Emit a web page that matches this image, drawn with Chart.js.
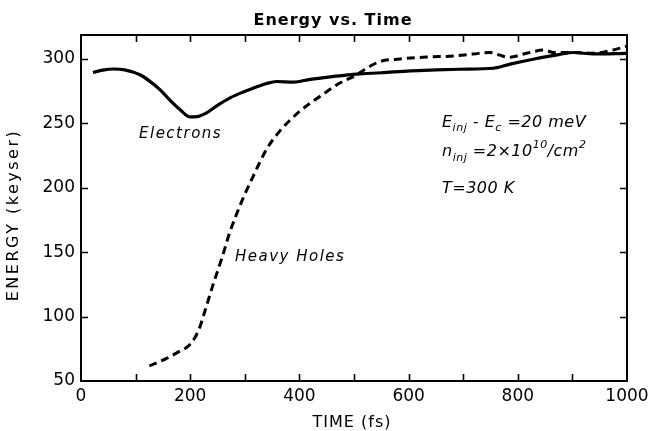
<!DOCTYPE html>
<html>
<head>
<meta charset="utf-8">
<script src="https://cdn.jsdelivr.net/npm/chart.js@4/dist/chart.umd.min.js"></script>
<style>
  html, body { margin: 0; padding: 0; background: #fff; }
  #wrap { width: 650px; height: 431px; }
</style>
</head>
<body>
<div id="wrap"><canvas id="c" width="650" height="431"></canvas></div>
<script>
// ---- data ----
const electronTime   = [22, 40, 59, 80, 108, 125, 145, 163, 181, 200, 212, 230, 250, 273, 295, 316, 340, 358, 389, 420, 460, 505, 550, 603, 650, 694, 755, 786, 828, 877, 902, 938, 1000];
const electronEnergy = [289.5, 291.3, 292.2, 291.5, 287.7, 283, 276, 268, 260.8, 255, 255.2, 258.2, 264, 269.8, 274, 277.4, 281, 282.5, 282, 284.2, 286.3, 288.3, 289.3, 290.8, 291.5, 292, 292.8, 296, 299.8, 303.6, 305, 303.9, 304.4];

const holeTime   = [125, 156, 180, 200, 216, 226, 242, 258, 273, 294, 316, 340, 364, 401, 438, 474, 505, 523, 548, 584, 633, 682, 718, 749, 767, 783, 816, 847, 865, 902, 938, 975, 1000];
const holeEnergy = [61.7, 67.4, 73, 78.5, 90, 103, 125, 145.4, 166, 189, 209.5, 230, 244, 259.5, 271, 281.3, 287.7, 292.8, 298, 300, 301.5, 302.3, 303.8, 305.1, 303, 301.3, 304.4, 306.9, 305.1, 305.1, 304.4, 307, 310];

const xTickValues = [0, 200, 400, 600, 800, 1000];
const yTickValues = [50, 100, 150, 200, 250, 300];
const xMinorTicks = [100, 200, 300, 400, 500, 600, 700, 800, 900];
const yMinorTicks = [100, 150, 200, 250, 300];

const FONT = "'DejaVu Sans', sans-serif";

const framePlugin = {
  id: 'frame',
  afterDraw(chart) {
    const ctx = chart.ctx;
    const a = chart.chartArea;
    const xs = chart.scales.x, ys = chart.scales.y;
    ctx.save();
    ctx.strokeStyle = '#000';
    ctx.lineWidth = 2;
    ctx.strokeRect(a.left, a.top, a.right - a.left, a.bottom - a.top);
    ctx.lineWidth = 1.6;
    const tl = 7;
    ctx.beginPath();
    xMinorTicks.forEach(v => {
      const px = Math.round(xs.getPixelForValue(v)) + 0.5;
      ctx.moveTo(px, a.bottom); ctx.lineTo(px, a.bottom - tl);
      ctx.moveTo(px, a.top); ctx.lineTo(px, a.top + tl);
    });
    yMinorTicks.forEach(v => {
      const py = Math.round(ys.getPixelForValue(v)) + 0.5;
      ctx.moveTo(a.left, py); ctx.lineTo(a.left + tl, py);
      ctx.moveTo(a.right, py); ctx.lineTo(a.right - tl, py);
    });
    ctx.stroke();

    ctx.fillStyle = '#000';
    ctx.textBaseline = 'middle';
    ctx.textAlign = 'center';
    // title
    ctx.font = "bold 16px " + FONT;
    ctx.letterSpacing = '1px';
    ctx.fillText('Energy vs. Time', 333, 21);
    // x title
    ctx.font = "16px " + FONT;
    ctx.letterSpacing = '1px';
    ctx.fillText('TIME (fs)', 352, 423);
    // y title
    ctx.save();
    ctx.translate(14, 215);
    ctx.rotate(-Math.PI / 2);
    ctx.letterSpacing = '2.5px';
    ctx.fillText('ENERGY (keyser)', 0, 0);
    ctx.restore();

    // curve labels
    ctx.letterSpacing = '1.5px';
    ctx.font = "italic 15px " + FONT;
    ctx.textAlign = 'left';
    ctx.fillText('Electrons', 139, 134);
    ctx.fillText('Heavy Holes', 235, 257);

    // annotation block with sub/superscripts
    ctx.textBaseline = 'alphabetic';
    const big = "italic 16px " + FONT;
    const small = "italic 11px " + FONT;
    function run(parts, x, y) {
      parts.forEach(p => {
        ctx.font = p[1] === 0 ? big : small;
        ctx.fillText(p[0], x, y + p[1]);
        x += ctx.measureText(p[0]).width;
      });
    }
    ctx.letterSpacing = '0.5px';
    run([['E', 0], ['inj', 4], [' - ', 0], ['E', 0], ['c', 4], [' =20 meV', 0]], 442, 127);
    run([['n', 0], ['inj', 5], [' =2×10', 0], ['10', -8], ['/cm', 0], ['2', -8]], 442, 156);
    run([['T=300 K', 0]], 442, 193);
    ctx.restore();
  }
};

const ctx = document.getElementById('c').getContext('2d');
new Chart(ctx, {
  type: 'line',
  data: {
    datasets: [
      {
        label: 'Electrons',
        data: electronTime.map((t, i) => ({ x: t, y: electronEnergy[i] })),
        borderColor: '#000',
        borderWidth: 3.2,
        pointRadius: 0,
        cubicInterpolationMode: 'monotone',
        fill: false
      },
      {
        label: 'Heavy Holes',
        data: holeTime.map((t, i) => ({ x: t, y: holeEnergy[i] })),
        borderColor: '#000',
        borderWidth: 3,
        borderDash: [8, 5],
        pointRadius: 0,
        cubicInterpolationMode: 'monotone',
        fill: false
      }
    ]
  },
  options: {
    responsive: false,
    animation: false,
    devicePixelRatio: 1,
    layout: { padding: { left: 0, top: 35, right: 23, bottom: 0 } },
    plugins: {
      legend: { display: false },
      title: { display: false },
      tooltip: { enabled: false }
    },
    scales: {
      x: {
        type: 'linear',
        min: 0, max: 1000,
        grid: { display: false, drawTicks: false },
        border: { display: false },
        afterFit: s => { s.height = 50; s.paddingLeft = 0; s.paddingRight = 0; },
        afterBuildTicks: s => { s.ticks = xTickValues.map(v => ({ value: v })); },
        ticks: { color: '#000', padding: 5, maxRotation: 0, autoSkip: false, font: { family: FONT, size: 17 }, callback: v => String(v) }
      },
      y: {
        type: 'linear',
        min: 50, max: 318.6,
        grid: { display: false, drawTicks: false },
        border: { display: false },
        afterFit: s => { s.width = 81; s.paddingTop = 0; s.paddingBottom = 0; },
        afterBuildTicks: s => { s.ticks = yTickValues.map(v => ({ value: v })); },
        ticks: { color: '#000', padding: 6, autoSkip: false, font: { family: FONT, size: 17 }, callback: v => String(v) }
      }
    }
  },
  plugins: [framePlugin]
});
</script>
</body>
</html>
